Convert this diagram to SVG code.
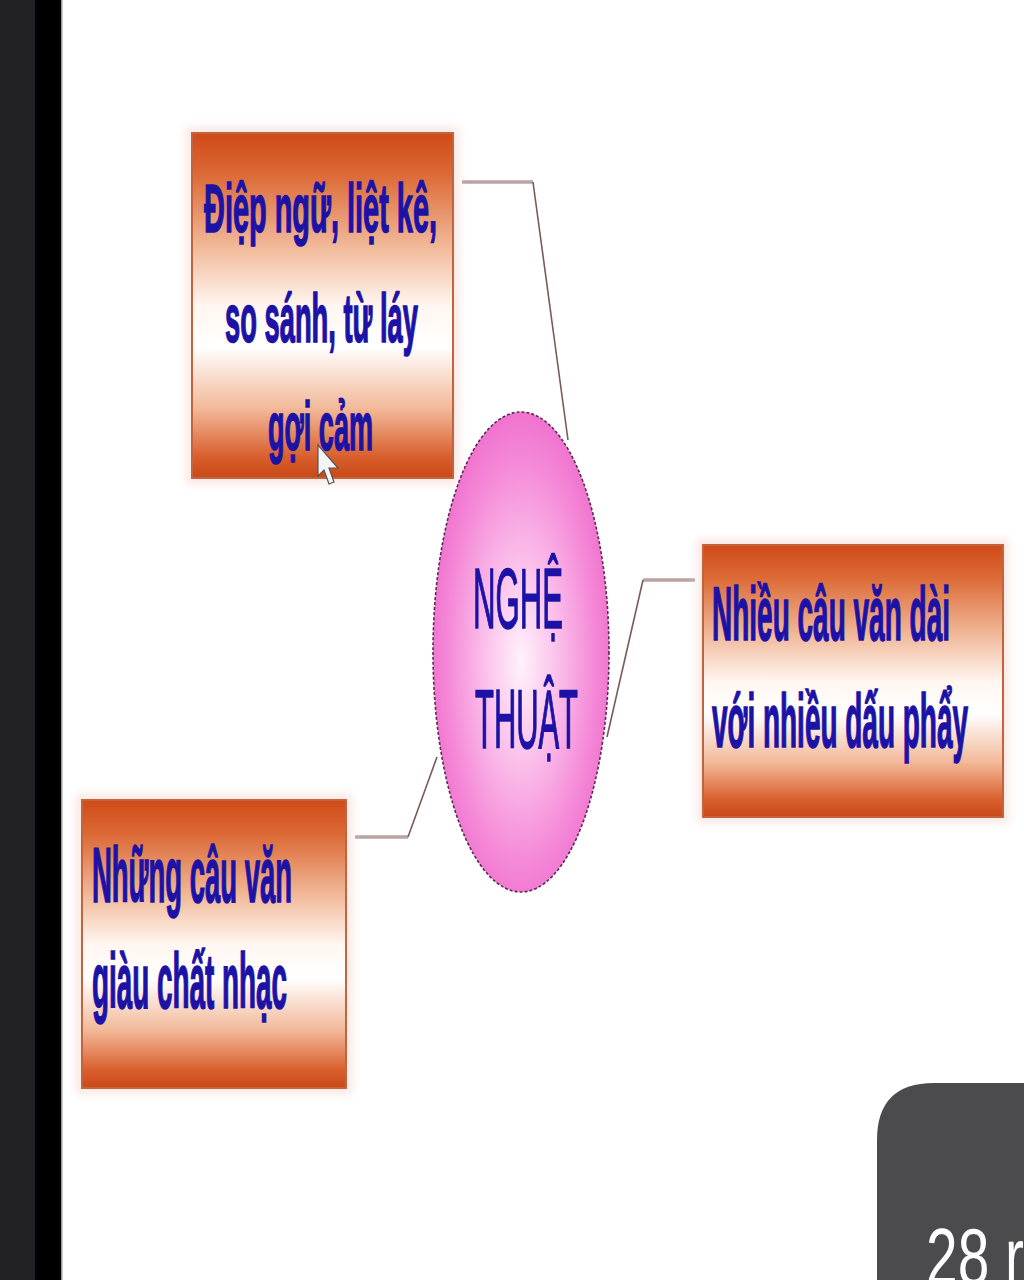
<svg xmlns="http://www.w3.org/2000/svg" width="1024" height="1280" viewBox="0 0 1024 1280">
<defs>
<linearGradient id="boxGrad" x1="0" y1="0" x2="0" y2="1">
<stop offset="0" stop-color="#cf4a18"/>
<stop offset="0.12" stop-color="#dc6a36"/>
<stop offset="0.32" stop-color="#f0b594"/>
<stop offset="0.5" stop-color="#fff6f0"/>
<stop offset="0.62" stop-color="#ffffff"/>
<stop offset="0.8" stop-color="#f2b898"/>
<stop offset="0.94" stop-color="#d85e2c"/>
<stop offset="1" stop-color="#c94816"/>
</linearGradient>
<radialGradient id="ellGrad" cx="0.5" cy="0.52" r="0.55">
<stop offset="0" stop-color="#fff2fb"/>
<stop offset="0.35" stop-color="#fbc4ec"/>
<stop offset="0.75" stop-color="#f58ad8"/>
<stop offset="1" stop-color="#ee6ccb"/>
</radialGradient>
<filter id="glow" x="-10%" y="-10%" width="120%" height="120%">
<feGaussianBlur stdDeviation="4"/>
</filter>
</defs>
<style>
.box{fill:url(#boxGrad);stroke:#c4643e;stroke-width:2}
.halo{fill:#f6d8d0;opacity:0.6}
.t{font-family:"Liberation Sans",Arial,sans-serif;font-weight:bold;fill:#1c12a6;stroke:#1c12a6;stroke-width:1.6}
.tc{font-family:"Liberation Sans",Arial,sans-serif;fill:#1c12a6;stroke:#1c12a6;stroke-width:1.6}
.hseg{fill:none;stroke:#b9a3a3;stroke-width:3.5}
.dseg{fill:none;stroke:#7a5a5a;stroke-width:1.6}
</style>
<rect x="0" y="0" width="1024" height="1280" fill="#ffffff"/>
<rect x="0" y="0" width="35" height="1280" fill="#222226"/>
<rect x="35" y="0" width="26" height="1280" fill="#000000"/>
<rect x="61" y="0" width="1.5" height="1280" fill="#9a9a9a"/>

<g id="connectors">
<polyline class="hseg" points="462,182 533,182"/>
<polyline class="dseg" points="533,182 568,440"/>
<polyline class="hseg" points="643,580 695,580"/>
<polyline class="dseg" points="643,580 607,737"/>
<polyline class="hseg" points="355,837 408,837"/>
<polyline class="dseg" points="408,837 437,757"/>
</g>

<g id="node-box1">
<rect class="halo" x="186" y="127" width="273" height="357" filter="url(#glow)"/>
<rect class="box" x="192" y="133" width="261" height="345"/>
<text class="t" x="204" y="232" font-size="68" textLength="233" lengthAdjust="spacingAndGlyphs">Điệp ngữ, liệt kê,</text>
<text class="t" x="225" y="342" font-size="68" textLength="193" lengthAdjust="spacingAndGlyphs">so sánh, từ láy</text>
<text class="t" x="268" y="450" font-size="68" textLength="105" lengthAdjust="spacingAndGlyphs">gợi cảm</text>
</g>

<g id="node-center">
<ellipse cx="521" cy="652" rx="88" ry="240" fill="url(#ellGrad)" stroke="#5a2a55" stroke-width="1.6" stroke-dasharray="3 2"/>
<text class="tc" x="473" y="628" font-size="86" textLength="90" lengthAdjust="spacingAndGlyphs">NGHỆ</text>
<text class="tc" x="475" y="748" font-size="84" textLength="103" lengthAdjust="spacingAndGlyphs">THUẬT</text>
</g>

<g id="node-box2">
<rect class="halo" x="697" y="539" width="312" height="284" filter="url(#glow)"/>
<rect class="box" x="703" y="545" width="300" height="272"/>
<text class="t" x="712" y="640" font-size="76" textLength="238" lengthAdjust="spacingAndGlyphs">Nhiều câu văn dài</text>
<text class="t" x="712" y="747" font-size="76" textLength="256" lengthAdjust="spacingAndGlyphs">với nhiều dấu phẩy</text>
</g>

<g id="node-box3">
<rect class="halo" x="76" y="794" width="276" height="300" filter="url(#glow)"/>
<rect class="box" x="82" y="800" width="264" height="288"/>
<text class="t" x="92" y="902" font-size="78" textLength="200" lengthAdjust="spacingAndGlyphs">Những câu văn</text>
<text class="t" x="92" y="1008" font-size="78" textLength="195" lengthAdjust="spacingAndGlyphs">giàu chất nhạc</text>
</g>

<g id="cursor">
<path d="M318,445 L318,476 L324,470 L329,484 L334,482 L329,468 L338,468 Z" fill="#f4f4f4" stroke="#555555" stroke-width="1.2"/>
</g>

<g id="overlay">
<path d="M877,1280 L877,1140 Q877,1083 934,1083 L1024,1083 L1024,1280 Z" fill="#4b4b4d"/>
<text x="926" y="1284" font-family="Liberation Sans,Arial,sans-serif" font-size="80" fill="#ffffff" textLength="98" lengthAdjust="spacingAndGlyphs">28 r</text>
</g>
</svg>
